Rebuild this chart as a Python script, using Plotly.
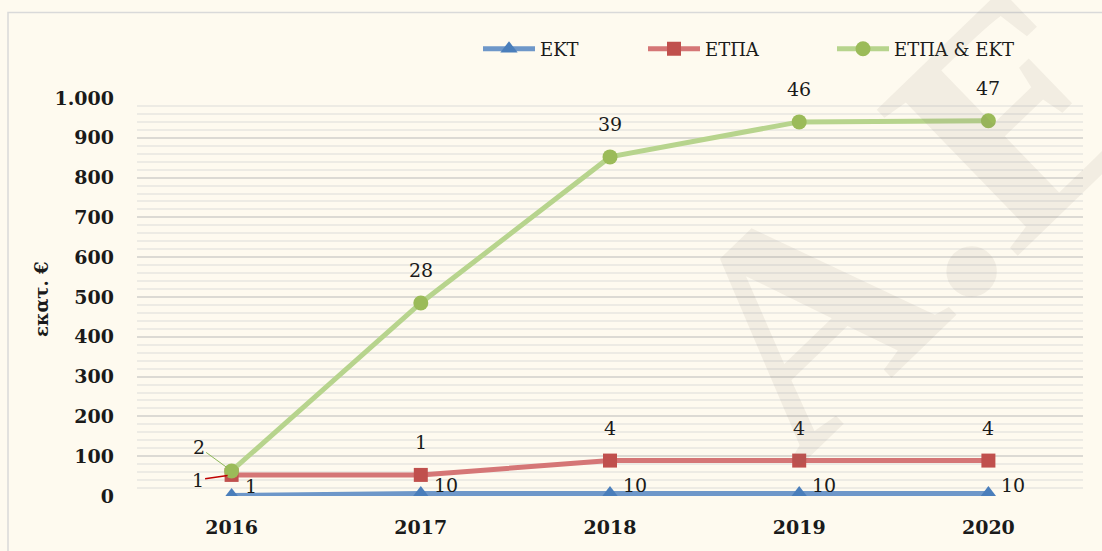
import plotly.graph_objects as go

# ---- data ----
years = ["2016", "2017", "2018", "2019", "2020"]
ekt_values = [1.5, 6, 6, 6, 6]
etpa_values = [53, 53, 89, 89, 89]
both_values = [63, 485, 852, 940, 943]
ekt_counts = [1, 10, 10, 10, 10]
etpa_counts = [1, 1, 4, 4, 4]
both_counts = [2, 28, 39, 46, 47]
series_names = ["ΕΚΤ", "ΕΤΠΑ", "ΕΤΠΑ & ΕΚΤ"]
y_ticks = [0, 100, 200, 300, 400, 500, 600, 700, 800, 900, 1000]

FONT = "DejaVu Serif"
BG = "#FEFAEF"
TXT = "#1A1A1A"

W, H = 1102, 551
ML, MR, MT, MB = 137, 19, 98, 55
PW = W - ML - MR
PH = H - MT - MB


def px_x(px):
    return (px - ML) / PW


def px_y(py):
    return (H - MB - py) / PH


fig = go.Figure()

fig.add_trace(go.Scatter(
    x=years, y=ekt_values, name=series_names[0], mode="lines+markers",
    line=dict(color="#6E97C9", width=5),
    marker=dict(symbol="triangle-up", size=15, color="#4A7EBB"),
    legend="legend",
))
fig.add_trace(go.Scatter(
    x=years, y=etpa_values, name=series_names[1], mode="lines+markers",
    line=dict(color="#D57676", width=5),
    marker=dict(symbol="square", size=14, color="#C0504D"),
    legend="legend2",
))
fig.add_trace(go.Scatter(
    x=years, y=both_values, name=series_names[2], mode="lines+markers",
    line=dict(color="#B7D48D", width=5),
    marker=dict(symbol="circle", size=15, color="#9BBB59"),
    legend="legend3",
))

label_font = dict(family=FONT, size=19, color=TXT)
annotations = []
# data labels (x given as category index)
for i, (v, n) in enumerate(zip(both_values, both_counts)):
    if i == 0:
        annotations.append(dict(x=i, y=v, text=str(n), showarrow=True, arrowhead=0,
                                arrowwidth=1, arrowcolor="#8DB85A", ax=-33, ay=-24,
                                standoff=6, font=label_font))
    else:
        annotations.append(dict(x=i, y=v, text=str(n), showarrow=False, yshift=33,
                                font=label_font))
for i, (v, n) in enumerate(zip(etpa_values, etpa_counts)):
    if i == 0:
        annotations.append(dict(x=i, y=v, text=str(n), showarrow=True, arrowhead=0,
                                arrowwidth=1.5, arrowcolor="#C00000", ax=-34, ay=5,
                                standoff=4, font=label_font))
    else:
        annotations.append(dict(x=i, y=v, text=str(n), showarrow=False, yshift=33,
                                font=label_font))
for i, (v, n) in enumerate(zip(ekt_values, ekt_counts)):
    annotations.append(dict(x=i, y=v, text=str(n), showarrow=False, xanchor="left",
                            xshift=11, yshift=9, font=label_font))

# y axis title
annotations.append(dict(xref="paper", yref="paper", x=px_x(41), y=px_y(300),
                        xanchor="center", yanchor="middle",
                        text="<b>εκατ. €</b>", showarrow=False, textangle=-90,
                        font=dict(family=FONT, size=18, color=TXT)))

# watermark
annotations.append(dict(xref="paper", yref="paper", x=px_x(1050), y=px_y(80),
                        xanchor="center", yanchor="middle",
                        text="<b>Α.Ε.Π.</b>", showarrow=False, textangle=-44,
                        font=dict(family="Liberation Serif", size=310,
                                  color="rgba(120,115,105,0.09)")))

legend_common = dict(orientation="h", yanchor="middle", xanchor="left",
                     bgcolor="rgba(0,0,0,0)", font=dict(family=FONT, size=18, color=TXT),
                     itemwidth=52)

fig.update_layout(
    width=W, height=H,
    margin=dict(l=ML, r=MR, t=MT, b=MB),
    paper_bgcolor=BG, plot_bgcolor=BG,
    separators=",.",
    showlegend=True,
    legend=dict(x=px_x(478), y=px_y(49), **legend_common),
    legend2=dict(x=px_x(643), y=px_y(49), **legend_common),
    legend3=dict(x=px_x(832), y=px_y(49), **legend_common),
    xaxis=dict(type="category", range=[-0.5, 4.5], showgrid=False, zeroline=False,
               showline=False, ticks="", ticklabelstandoff=18,
               tickfont=dict(family=FONT, size=19, color=TXT, weight="bold")),
    yaxis=dict(range=[0, 1000], tickvals=y_ticks, tickformat=",d", showgrid=True,
               gridcolor="#DCDAD4", gridwidth=1.5, zeroline=False, showline=False,
               ticks="", ticklabelstandoff=22,
               tickfont=dict(family=FONT, size=19, color=TXT, weight="bold"),
               minor=dict(dtick=20, showgrid=True, gridcolor="#EDEBE4", gridwidth=1.5)),
    annotations=annotations,
    shapes=[dict(type="rect", xref="paper", yref="paper",
                 x0=px_x(8), x1=px_x(1120), y0=px_y(600), y1=px_y(12.5),
                 line=dict(color="#D9D9D9", width=1.5), layer="below")],
)

fig.write_html("out.html", config={"displayModeBar": False},
               post_script="document.body.style.margin='0';")
